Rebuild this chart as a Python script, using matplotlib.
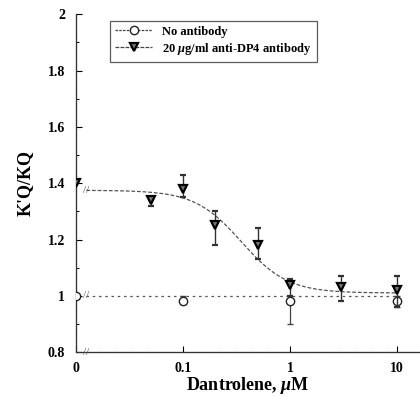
import matplotlib
matplotlib.use("Agg")
import matplotlib.pyplot as plt
import numpy as np

plt.rcParams['font.family'] = ['Liberation Serif', 'DejaVu Serif']
plt.rcParams['font.weight'] = 'bold'
plt.rcParams['mathtext.fontset'] = 'custom'
plt.rcParams['mathtext.it'] = 'Liberation Serif:italic:bold'
plt.rcParams['mathtext.rm'] = 'Liberation Serif:bold'

# "0" concentration is drawn at 0.01 on the broken log axis
zero_pos = 0.01

# anti-DP4 antibody (20 ug/ml)
dp4_conc = [zero_pos, 0.05, 0.1, 0.2, 0.5, 1, 3, 10]
dp4_val = [1.40, 1.34, 1.38, 1.25, 1.18, 1.04, 1.03, 1.02]
dp4_err_lo = [0.00, 0.02, 0.03, 0.07, 0.05, 0.04, 0.05, 0.06]
dp4_err_hi = [0.00, 0.00, 0.05, 0.05, 0.06, 0.02, 0.04, 0.05]

# no antibody
ctl_conc = [zero_pos, 0.1, 1, 10]
ctl_val = [1.00, 0.98, 0.98, 0.98]
ctl_err_lo = [0.00, 0.01, 0.08, 0.02]
ctl_err_hi = [0.00, 0.02, 0.00, 0.02]

# fitted sigmoid
fit_top, fit_bottom, fit_ic50, fit_hill = 1.375, 1.01, 0.35, 2.0
ctl_level = 1.0

fig = plt.figure(figsize=(4.2, 3.97), dpi=100)
ax = fig.add_axes([0.181, 0.113, 0.819, 0.851])

xs = np.logspace(np.log10(0.0125), np.log10(10), 200)
fit = fit_bottom + (fit_top - fit_bottom) / (1 + (xs / fit_ic50) ** fit_hill)
ax.plot(xs, fit, color='#555555', lw=0.9, ls=(0, (3, 1.5)))
ax.plot([0.0125, 10], [ctl_level, ctl_level], color='#555555', lw=0.9, ls=(0, (2, 3)))

ax.errorbar(ctl_conc, ctl_val, yerr=[ctl_err_lo, ctl_err_hi], fmt='o', mfc='white',
            mec='#222222', mew=1.0, ms=6, ecolor='#444444', elinewidth=0.9,
            capsize=2, zorder=3)
ax.errorbar(dp4_conc, dp4_val, yerr=[dp4_err_lo, dp4_err_hi], fmt='v', mfc='#777777',
            mec='black', mew=1.6, ms=6, ecolor='#333333', elinewidth=1.0,
            capsize=2, zorder=4)

# break marks
for yb in [fit_top, ctl_level, 0.8]:
    ax.text(0.0125, yb, '//', fontsize=8, color='#555555', ha='center', va='center',
            fontweight='normal', clip_on=False)

ax.set_xscale('log')
ax.set_xlim(zero_pos, 16.4)
ax.set_ylim(0.8, 2.0)
ax.set_xticks([zero_pos, 0.1, 1, 10])
ax.set_xticklabels(['0', '0.1', '1', '10'], fontweight='bold')
ax.xaxis.set_minor_locator(matplotlib.ticker.NullLocator())
ax.set_yticks([0.8, 1.0, 1.2, 1.4, 1.6, 1.8, 2.0])
ax.set_yticklabels(['0.8', '1', '1.2', '1.4', '1.6', '1.8', '2'], fontweight='bold')
ax.set_yticks(np.arange(0.9, 2.0, 0.2), minor=True)
ax.tick_params(direction='in', labelsize=10, width=0.8, length=4)
ax.tick_params(which='minor', direction='in', length=2, width=0.7)
ax.tick_params(axis='x', pad=7)
ax.tick_params(axis='y', pad=8)

for s in ['top', 'right']:
    ax.spines[s].set_visible(False)
for s in ['left', 'bottom']:
    ax.spines[s].set_linestyle((0, (1, 0.5)))
    ax.spines[s].set_linewidth(0.9)
    ax.spines[s].set_color('#333333')

ax.set_xlabel('Dantrolene, $\\mu$M', fontsize=13, fontweight='bold', labelpad=0)
ax.set_ylabel("K'Q/KQ", fontsize=13, fontweight='bold', labelpad=10)

h1 = ax.plot([], [], marker='o', mfc='white', mec='#222222', ms=6, color='#444444',
             lw=0.9, ls=(0, (2, 1)))[0]
h2 = ax.plot([], [], marker='v', mfc='#777777', mec='black', mew=1.6, ms=6,
             color='#444444', lw=0.9, ls=(0, (3, 1)))[0]
leg = ax.legend([h1, h2], ['No antibody', '20 $\\mu$g/ml anti-DP4 antibody'],
                loc='upper left', bbox_to_anchor=(0.08, 1.0), fontsize=9,
                prop={'weight': 'bold', 'size': 9},
                frameon=True, fancybox=False, edgecolor='#333333',
                handlelength=3.0, borderpad=0.4, labelspacing=0.25)
leg.get_frame().set_linewidth(0.9)

fig.savefig('out.png', dpi=100)
